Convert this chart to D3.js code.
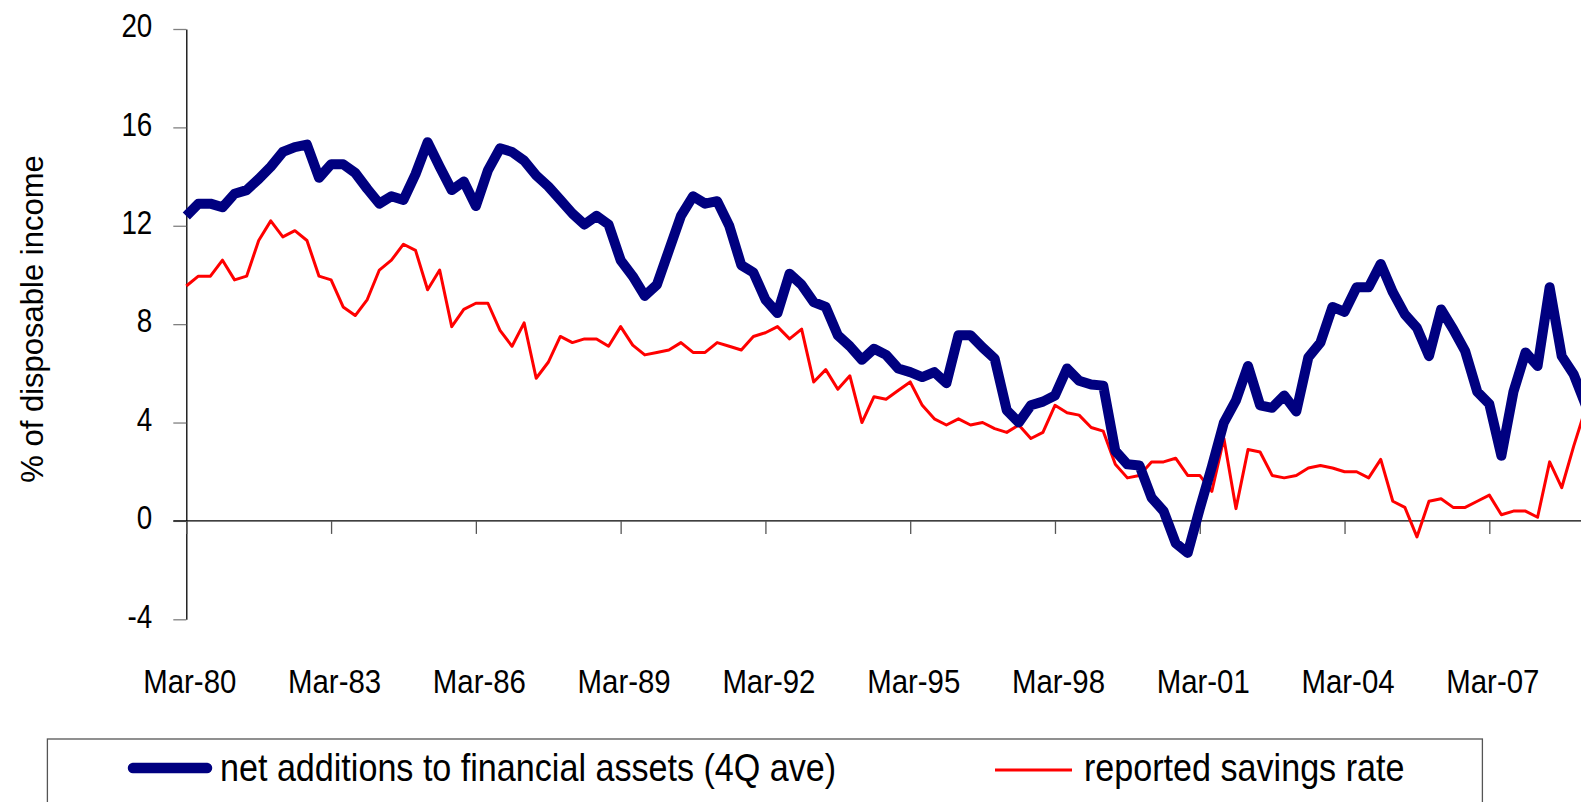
<!DOCTYPE html>
<html lang="en">
<head>
	<meta charset="UTF-8">
	<title>Financial assets vs savings rate</title>
	<script type="text/javascript" src="https://cdn.jsdelivr.net/npm/d3@7/dist/d3.min.js"></script>
	<style>
		body {
			margin: 0;
			background: #fff;
		}

		svg text {
			font-family: "Liberation Sans", Arial, sans-serif;
			fill: #000;
		}
	</style>
</head>
<body>
<div id="viz"></div>

<script type="text/javascript">
	// tick labels on the category axis (every 12th quarter)
	var tickLabels = ['Mar-80', 'Mar-83', 'Mar-86', 'Mar-89', 'Mar-92', 'Mar-95',
		'Mar-98', 'Mar-01', 'Mar-04', 'Mar-07'];

	var yTicks = [-4, 0, 4, 8, 12, 16, 20];

	// net additions to financial assets (4Q ave), % of disposable income, Mar-80 onwards
	var netAdditions = [
		12.4, 12.9, 12.9, 12.75, 13.3, 13.45, 13.9, 14.4, 15.0, 15.2,
		15.3, 13.95, 14.5, 14.5, 14.15, 13.5, 12.9, 13.2, 13.05, 14.1,
		15.4, 14.4, 13.45, 13.8, 12.8, 14.25, 15.15, 15.0, 14.65, 14.05,
		13.6, 13.05, 12.5, 12.05, 12.4, 12.05, 10.6, 9.95, 9.15, 9.6,
		11.0, 12.4, 13.2, 12.9, 13.0, 12.0, 10.4, 10.1, 9.0, 8.45,
		10.05, 9.6, 8.9, 8.7, 7.55, 7.1, 6.55, 7.0, 6.75, 6.2,
		6.05, 5.85, 6.05, 5.6, 7.55, 7.55, 7.05, 6.6, 4.5, 4.0,
		4.7, 4.85, 5.1, 6.2, 5.7, 5.55, 5.5, 2.85, 2.3, 2.25,
		0.95, 0.4, -0.9, -1.3, 0.5, 2.2, 4.0, 4.9, 6.3, 4.7,
		4.6, 5.1, 4.45, 6.65, 7.25, 8.7, 8.5, 9.5, 9.5, 10.45,
		9.3, 8.4, 7.85, 6.7, 8.6, 7.8, 6.9, 5.25, 4.75, 2.65,
		5.25, 6.85, 6.3, 9.5, 6.7, 5.95, 4.7
	];

	// reported savings rate, % of disposable income
	var savingsRate = [
		9.55, 9.95, 9.95, 10.6, 9.8, 9.95, 11.4, 12.2, 11.55, 11.8,
		11.4, 9.95, 9.8, 8.7, 8.35, 9.0, 10.2, 10.6, 11.25, 11.0,
		9.4, 10.2, 7.9, 8.6, 8.85, 8.85, 7.75, 7.1, 8.05, 5.8,
		6.45, 7.5, 7.25, 7.4, 7.4, 7.1, 7.9, 7.15, 6.75, 6.85,
		6.95, 7.25, 6.85, 6.85, 7.25, 7.1, 6.95, 7.5, 7.65, 7.9,
		7.4, 7.8, 5.65, 6.15, 5.35, 5.9, 4.0, 5.05, 4.95, 5.3,
		5.65, 4.7, 4.15, 3.9, 4.15, 3.9, 4.0, 3.75, 3.6, 3.9,
		3.35, 3.6, 4.7, 4.4, 4.3, 3.8, 3.65, 2.3, 1.75, 1.85,
		2.4, 2.4, 2.55, 1.85, 1.85, 1.2, 3.35, 0.5, 2.9, 2.8,
		1.85, 1.75, 1.85, 2.15, 2.25, 2.15, 2.0, 2.0, 1.75, 2.5,
		0.8, 0.55, -0.65, 0.8, 0.9, 0.55, 0.55, 0.8, 1.05, 0.25,
		0.4, 0.4, 0.15, 2.4, 1.35, 3.05, 4.6
	];

	var seriesNames = ['net additions to financial assets (4Q ave)', 'reported savings rate'];
	var seriesColors = ['#000080', '#ff0000'];

	// quarter categories Mar-80, Jun-80, ...
	var months = ['Mar', 'Jun', 'Sep', 'Dec'];
	var quarters = [];
	for (var yr = 1980; quarters.length < netAdditions.length; yr++) {
		months.forEach(function (m) {
			if (quarters.length < netAdditions.length)
				quarters.push(m + '-' + String(yr).slice(2));
		});
	}

	var width = 1581, height = 802;
	var x0 = 186.3, step = 12.065;

	// the original font is a narrow face, so squeeze the regular one sideways
	function narrow(sel, sx, xpos) {
		sel.attr('transform', 'scale(' + sx + ',1)')
			.attr('x', xpos / sx);
	}

	var svg = d3.select('#viz')
		.append('svg')
		.attr('width', width)
		.attr('height', height);

	var x = d3.scalePoint()
		.domain(quarters)
		.range([x0, x0 + step * (quarters.length - 1)]);

	var y = d3.scaleLinear()
		.domain([-4, 20])
		.range([619.3, 29]);

	// y axis
	var yAxis = d3.axisLeft(y)
		.tickValues(yTicks)
		.tickFormat(function (d) { return String(d); })
		.tickSize(13)
		.tickSizeOuter(0)
		.tickPadding(21);

	var gy = svg.append('g')
		.attr('transform', 'translate(' + x0 + ',0)')
		.call(yAxis);
	gy.select('.domain').attr('stroke', '#000').attr('stroke-width', 1.3);
	gy.selectAll('.tick line').attr('stroke', '#808080').attr('stroke-width', 1.3);
	gy.selectAll('.tick text')
		.attr('dy', '0.23em')
		.style('font-size', '33.5px')
		.call(narrow, 0.83, -34);

	// x axis along zero
	var xAxis = d3.axisBottom(x)
		.tickValues(tickLabels)
		.tickSize(13)
		.tickSizeOuter(0);

	var gx = svg.append('g')
		.attr('transform', 'translate(0,' + y(0) + ')')
		.call(xAxis);
	gx.select('.domain')
		.attr('d', 'M' + (x0 - 13) + ',0H' + width)
		.attr('stroke', '#000').attr('stroke-width', 1.3);
	gx.selectAll('.tick line').attr('stroke', '#555').attr('stroke-width', 1.3);
	gx.selectAll('.tick text')
		.attr('y', 692.7 - y(0))
		.attr('dy', 0)
		.style('font-size', '34px')
		.call(narrow, 0.865, 3);

	// axis title
	svg.append('text')
		.attr('transform', 'translate(43,319) rotate(-90)')
		.attr('text-anchor', 'middle')
		.style('font-size', '31px')
		.text('% of disposable income');

	var line = d3.line()
		.x(function (d, i) { return x(quarters[i]); })
		.y(function (d) { return y(d); });

	svg.append('path')
		.datum(savingsRate)
		.attr('fill', 'none')
		.attr('stroke', seriesColors[1])
		.attr('stroke-width', 3)
		.attr('stroke-linejoin', 'round')
		.attr('d', line);

	svg.append('path')
		.datum(netAdditions)
		.attr('fill', 'none')
		.attr('stroke', seriesColors[0])
		.attr('stroke-width', 10)
		.attr('stroke-linejoin', 'round')
		.attr('d', line);

	// legend
	var legend = svg.append('g');
	legend.append('rect')
		.attr('x', 47.4).attr('y', 739)
		.attr('width', 1435).attr('height', 90)
		.attr('fill', '#fff')
		.attr('stroke', '#555')
		.attr('stroke-width', 1.3);

	var legendItems = [
		{x1: 133, x2: 207, ly: 768, tx: 220, w: 10.5, cap: 'round'},
		{x1: 995, x2: 1072, ly: 770, tx: 1084, w: 3, cap: 'butt'}
	];
	legendItems.forEach(function (d, i) {
		legend.append('line')
			.attr('x1', d.x1).attr('x2', d.x2)
			.attr('y1', d.ly).attr('y2', d.ly)
			.attr('stroke', seriesColors[i])
			.attr('stroke-width', d.w)
			.attr('stroke-linecap', d.cap);
		legend.append('text')
			.attr('y', 780.7)
			.style('font-size', '39px')
			.text(seriesNames[i])
			.call(narrow, 0.875, d.tx);
	});
</script>
</body>
</html>
